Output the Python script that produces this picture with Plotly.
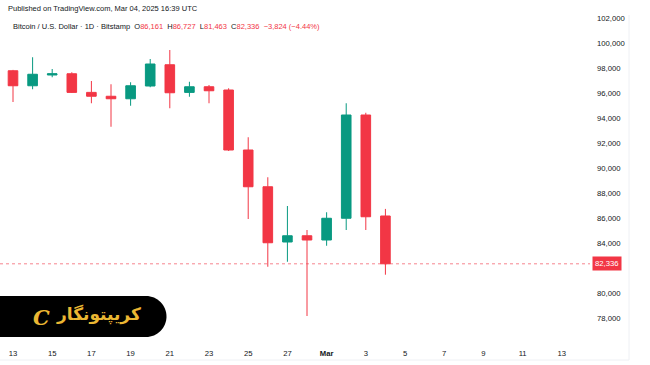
import plotly.graph_objects as go

# ---- data ----
dates = ["2025-02-13", "2025-02-14", "2025-02-15", "2025-02-16", "2025-02-17",
         "2025-02-18", "2025-02-19", "2025-02-20", "2025-02-21", "2025-02-22",
         "2025-02-23", "2025-02-24", "2025-02-25", "2025-02-26", "2025-02-27",
         "2025-02-28", "2025-03-01", "2025-03-02", "2025-03-03", "2025-03-04"]
opens = [97780, 96580, 97440, 97540, 96050, 95740, 95540, 96560, 98260, 96050,
         96500, 96240, 91440, 88500, 84080, 84580, 84240, 85980, 94240, 86161]
highs = [97850, 98860, 97920, 97660, 96960, 96700, 96860, 98720, 99440, 96900,
         96640, 96380, 92460, 89260, 86960, 85040, 86460, 95180, 94420, 86727]
lows = [95280, 96300, 97260, 96000, 95180, 93300, 94980, 96460, 94780, 95700,
        95180, 91360, 85920, 82100, 82500, 78160, 83780, 85040, 85040, 81463]
closes = [96580, 97500, 97540, 96050, 95740, 95540, 96580, 98320, 96020, 96500,
          96180, 91440, 88500, 84020, 84580, 84240, 85980, 94240, 86100, 82336]

x_tick_vals = ["2025-02-13", "2025-02-15", "2025-02-17", "2025-02-19", "2025-02-21",
               "2025-02-23", "2025-02-25", "2025-02-27", "2025-03-01", "2025-03-03",
               "2025-03-05", "2025-03-07", "2025-03-09", "2025-03-11", "2025-03-13"]
x_tick_text = ["13", "15", "17", "19", "21", "23", "25", "27", "<b>Mar</b>",
               "3", "5", "7", "9", "11", "13"]
y_tick_vals = list(range(78000, 102001, 2000))
# 82,000 is hidden behind the last-price badge in the reference
y_tick_text = ["" if v == 82000 else f"{v:,}" for v in y_tick_vals]
last_price = 82336

RED = "#F23645"
GREEN = "#089981"
TXT = "#131722"
GOLD = "#EBB733"

W, H = 650, 365
ML, MR, MT, MB = 0, 60, 0, 20
PW, PH = W - ML - MR, H - MT - MB


def px(x):
    return (x - ML) / PW


def py(y):
    return 1 - (y - MT) / PH


fig = go.Figure()
fig.add_trace(go.Candlestick(
    x=dates, open=opens, high=highs, low=lows, close=closes,
    increasing=dict(line=dict(color=GREEN, width=1), fillcolor=GREEN),
    decreasing=dict(line=dict(color=RED, width=1), fillcolor=RED),
    whiskerwidth=0, hoverinfo="skip", showlegend=False,
))

shapes = []
# last price dotted line
shapes.append(dict(type="line", xref="paper", yref="y", x0=0, x1=1,
                   y0=last_price, y1=last_price,
                   line=dict(color=RED, width=1, dash="dot"), opacity=0.6))
# borders
shapes.append(dict(type="line", xref="paper", yref="paper", x0=px(629), x1=px(629),
                   y0=py(10), y1=py(360), line=dict(color="#eef0f4", width=1)))
shapes.append(dict(type="line", xref="paper", yref="paper", x0=px(0), x1=px(629),
                   y0=py(360), y1=py(360), line=dict(color="#eef0f4", width=1)))
# white header band (clips top label)
shapes.append(dict(type="rect", xref="paper", yref="paper", x0=px(0), x1=px(650),
                   y0=py(15), y1=py(0), fillcolor="white", line=dict(width=0),
                   layer="above"))
# logo pill
r = 20.5
k = 0.5523 * r
cx, top, bot = 146, 296, 337
mid = (top + bot) / 2
pts = [
    ("M", [(-5, top)]),
    ("L", [(cx, top)]),
    ("C", [(cx + k, top), (cx + r, mid - k), (cx + r, mid)]),
    ("C", [(cx + r, mid + k), (cx + k, bot), (cx, bot)]),
    ("L", [(-5, bot)]),
]
path = ""
for cmd, plist in pts:
    path += cmd + " " + " ".join(f"{px(a):.5f},{py(b):.5f}" for a, b in plist) + " "
path += "Z"
shapes.append(dict(type="path", xref="paper", yref="paper", path=path,
                   fillcolor="#000000", line=dict(width=0), layer="above"))

annotations = []
annotations.append(dict(xref="paper", yref="paper", x=px(6), y=py(8), xanchor="left",
                        yanchor="middle", showarrow=False,
                        text="Published on TradingView.com, Mar 04, 2025 16:39 UTC",
                        font=dict(size=7.5, color=TXT, family="Liberation Sans")))
sp = "\u00a0"
line2 = ("Bitcoin / U.S. Dollar · 1D · Bitstamp" + sp * 2 +
         f"O<span style='color:{RED}'>86,161</span>" + sp * 2 +
         f"H<span style='color:{RED}'>86,727</span>" + sp * 2 +
         f"L<span style='color:{RED}'>81,463</span>" + sp * 2 +
         f"C<span style='color:{RED}'>82,336</span>" + sp * 2 +
         f"<span style='color:{RED}'>−3,824 (−4.44%)</span>")
annotations.append(dict(xref="paper", yref="paper", x=px(11), y=py(27), xanchor="left",
                        yanchor="middle", showarrow=False, text=line2,
                        font=dict(size=7.5, color=TXT, family="Liberation Sans")))
# last price label
annotations.append(dict(xref="paper", yref="y", x=px(592), y=last_price, xanchor="left",
                        yanchor="middle", showarrow=False, text="82,336",
                        bgcolor=RED, borderpad=2,
                        font=dict(size=7.7, color="white", family="Liberation Sans")))
# logo text
annotations.append(dict(xref="paper", yref="paper", x=px(98), y=py(314), xanchor="center",
                        yanchor="middle", showarrow=False, text="<b>کریپتونگار</b>",
                        font=dict(size=17, color=GOLD, family="DejaVu Sans")))
annotations.append(dict(xref="paper", yref="paper", x=px(41), y=py(317), xanchor="center",
                        yanchor="middle", showarrow=False, text="<b><i>C</i></b>",
                        font=dict(size=21, color=GOLD, family="DejaVu Serif")))

fig.update_layout(
    width=W, height=H,
    margin=dict(l=ML, r=MR, t=MT, b=MB),
    paper_bgcolor="white", plot_bgcolor="white",
    shapes=shapes, annotations=annotations,
    xaxis=dict(type="date", range=["2025-02-12 08:05", "2025-03-14 10:30"],
               rangeslider=dict(visible=False),
               tickvals=x_tick_vals, ticktext=x_tick_text,
               showgrid=False, zeroline=False,
               showline=False, ticks="", ticklabelstandoff=2,
               tickfont=dict(size=7.7, color=TXT, family="Liberation Sans")),
    yaxis=dict(side="right", range=[75840, 103440],
               tickvals=y_tick_vals, ticktext=y_tick_text,
               showgrid=False, zeroline=False,
               showline=False, ticks="", ticklabelstandoff=6,
               tickfont=dict(size=7.7, color=TXT, family="Liberation Sans")),
)

fig.write_html("out.html", config={"displayModeBar": False},
               post_script="document.body.style.margin='0px';")
